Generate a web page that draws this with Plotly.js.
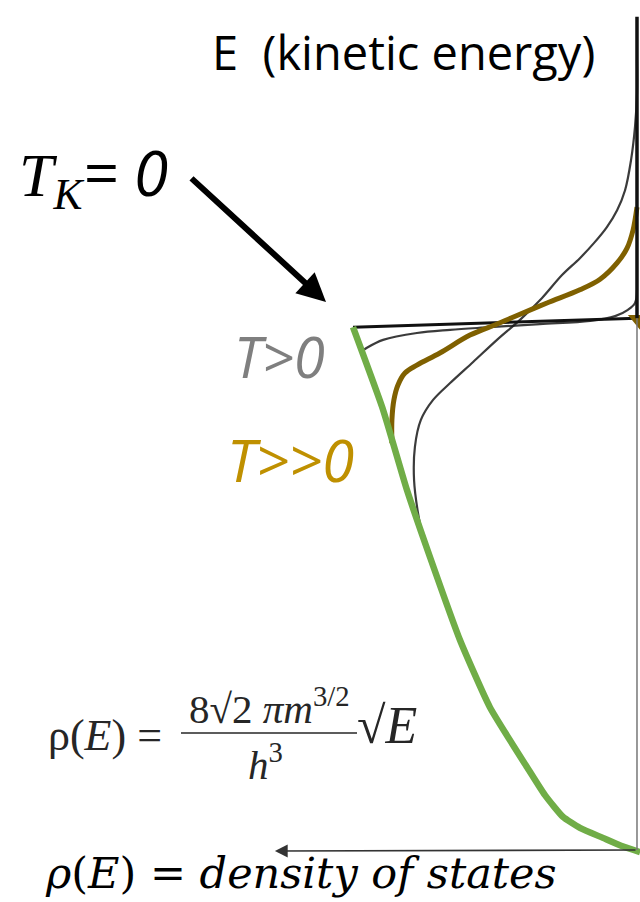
<!DOCTYPE html>
<html>
<head>
<meta charset="utf-8">
<script src="https://cdn.plot.ly/plotly-3.0.1.min.js"></script>
<style>
  html, body { margin: 0; padding: 0; background: #fff; }
  #chart { width: 640px; height: 902px; }
</style>
</head>
<body>
<div id="chart"></div>
<script>
// Electron energy distribution in a metal: density of states rho(E) drawn
// leftwards from a vertical energy axis, with Fermi-Dirac occupied curves.
// Units: E in units of the Fermi energy, rho in units of rho(E_F).

// Density of states rho(E) ~ sqrt(E)
const dosRho = [-0.011, 0.056, 0.120, 0.201, 0.261, 0.324, 0.387, 0.518, 0.623, 0.729, 0.810, 0.894, 1.000];
const dosE   = [-0.004, 0.008, 0.023, 0.042, 0.063, 0.104, 0.157, 0.271, 0.398, 0.556, 0.683, 0.835, 0.992];

// T = 0 : sharp cut-off at the Fermi level
const stepRho = [1.000, 0.000];
const stepE   = [0.992, 1.009];

// T > 0 : slightly smeared edge
const warmRho = [0.972, 0.951, 0.894, 0.775, 0.658, 0.518, 0.342, 0.165, 0.077, 0.032, 0.007, 0.000];
const warmE   = [0.945, 0.953, 0.968, 0.981, 0.987, 0.992, 0.998, 1.004, 1.013, 1.025, 1.038, 1.063];

// T > 0 : wider smearing, long high-energy tail
const hotRho = [0.754, 0.771, 0.785, 0.782, 0.761, 0.718, 0.658, 0.577, 0.493, 0.412, 0.335, 0.264, 0.201, 0.151, 0.106, 0.070, 0.042, 0.021, 0.007, 0.000, 0.000];
const hotE   = [0.594, 0.639, 0.702, 0.765, 0.816, 0.854, 0.886, 0.926, 0.968, 1.006, 1.047, 1.091, 1.123, 1.152, 1.182, 1.214, 1.252, 1.309, 1.372, 1.436, 1.499];

// T >> 0 : highlighted curve
const veryHotRho = [0.863, 0.863, 0.856, 0.842, 0.817, 0.775, 0.694, 0.588, 0.493, 0.437, 0.317, 0.201, 0.130, 0.070, 0.035, 0.014, 0.000];
const veryHotE   = [0.772, 0.816, 0.854, 0.882, 0.905, 0.920, 0.943, 0.977, 0.998, 1.011, 1.038, 1.063, 1.083, 1.114, 1.142, 1.176, 1.220];

// small wedge of the T>>0 curve showing past the energy axis
const wedgeRho = [0.032, -0.011, -0.011, 0.032];
const wedgeE   = [1.015, 1.015, 0.987, 1.015];

// axis extents
const eAxisTop = 1.581;
const eFermi = 1.009;
const rhoAxisEnd = 1.275;

const GREEN = '#70ad47';
const BROWN = '#7f6000';
const INK = 'rgba(25,25,25,0.85)';

const traces = [
  { x: hotRho, y: hotE, mode: 'lines', line: { color: INK, width: 2.2, shape: 'spline', smoothing: 1 }, hoverinfo: 'skip' },
  { x: warmRho, y: warmE, mode: 'lines', line: { color: INK, width: 2.2, shape: 'spline', smoothing: 1 }, hoverinfo: 'skip' },
  { x: stepRho, y: stepE, mode: 'lines', line: { color: '#111', width: 3 }, hoverinfo: 'skip' },
  { x: wedgeRho, y: wedgeE, mode: 'lines', fill: 'toself', fillcolor: BROWN, line: { color: BROWN, width: 0 }, hoverinfo: 'skip' },
  { x: veryHotRho, y: veryHotE, mode: 'lines', line: { color: BROWN, width: 5, shape: 'spline', smoothing: 1 }, hoverinfo: 'skip' },
  { x: dosRho, y: dosE, mode: 'lines', line: { color: GREEN, width: 6.5, shape: 'spline', smoothing: 0.5 }, hoverinfo: 'skip' }
];

// pixel helpers for paper positions
const W = 640, H = 902;
const px = v => v / W;
const py = v => 1 - v / H;

const SANS = 'Open Sans';
const SERIF = 'Liberation Serif';
const FORMULA_INK = '#262626';

const layout = {
  width: W, height: H,
  margin: { l: 0, r: 0, t: 0, b: 0 },
  paper_bgcolor: '#fff', plot_bgcolor: '#fff',
  showlegend: false,
  xaxis: { range: [2.243, -0.0106], visible: false, fixedrange: true },
  yaxis: { range: [-0.0987, 1.6129], visible: false, fixedrange: true },
  shapes: [
    // energy axis: heavy above the Fermi level, light below
    { type: 'line', xref: 'x', yref: 'y', x0: 0, x1: 0, y0: eFermi, y1: eAxisTop, line: { color: '#111', width: 3.5 } },
    { type: 'line', xref: 'x', yref: 'y', x0: 0, x1: 0, y0: 0, y1: eFermi, line: { color: '#777', width: 1.5 } },
    // fraction bar of the printed formula
    { type: 'line', xref: 'paper', yref: 'paper', x0: px(181), x1: px(357), y0: py(733), y1: py(733), line: { color: FORMULA_INK, width: 1.6 } }
  ],
  annotations: [
    // density-of-states axis with arrow pointing left
    { xref: 'x', yref: 'y', axref: 'x', ayref: 'y', x: rhoAxisEnd, y: -0.002, ax: 0, ay: 0,
      text: '', showarrow: true, arrowhead: 2, arrowsize: 1.6, arrowwidth: 1.6, arrowcolor: '#333', standoff: 0 },
    // pointer from the T_K = 0 label to the Fermi edge
    { xref: 'paper', yref: 'paper', x: px(326), y: py(302), ax: -136, ay: -125,
      text: '', showarrow: true, arrowhead: 2, arrowsize: 0.95, arrowwidth: 6, arrowcolor: '#000', standoff: 0 },
    { xref: 'paper', yref: 'paper', x: px(210), y: py(52), xanchor: 'left', yanchor: 'middle',
      text: 'E  (kinetic energy)', showarrow: false, font: { family: SANS, size: 47, color: '#000' } },
    { xref: 'paper', yref: 'paper', x: px(17), y: py(174), xanchor: 'left', yanchor: 'middle',
      text: '<span style="font-family:Liberation Serif"><i>T</i><sub><i>K</i></sub></span><i>= 0</i>',
      showarrow: false, font: { family: SANS, size: 62, color: '#000' } },
    { xref: 'paper', yref: 'paper', x: px(232), y: py(356), xanchor: 'left', yanchor: 'middle',
      text: '<i>T&gt;0</i>', showarrow: false, font: { family: SANS, size: 56, color: '#7f7f7f' } },
    { xref: 'paper', yref: 'paper', x: px(225), y: py(459), xanchor: 'left', yanchor: 'middle',
      text: '<i>T&gt;&gt;0</i>', showarrow: false, font: { family: SANS, size: 58, color: '#bf9000' } },
    // printed formula for the density of states
    { xref: 'paper', yref: 'paper', x: px(46), y: py(735), xanchor: 'left', yanchor: 'middle',
      text: 'ρ(<i>E</i>) =', showarrow: false, font: { family: SERIF, size: 44, color: FORMULA_INK } },
    { xref: 'paper', yref: 'paper', x: px(269), y: py(706), xanchor: 'center', yanchor: 'middle',
      text: '8√2 <i>πm</i><sup>3/2</sup>', showarrow: false, font: { family: SERIF, size: 41, color: FORMULA_INK } },
    { xref: 'paper', yref: 'paper', x: px(265), y: py(762), xanchor: 'center', yanchor: 'middle',
      text: '<i>h</i><sup>3</sup>', showarrow: false, font: { family: SERIF, size: 41, color: FORMULA_INK } },
    { xref: 'paper', yref: 'paper', x: px(355), y: py(725), xanchor: 'left', yanchor: 'middle',
      text: '√<i>E</i>', showarrow: false, font: { family: SERIF, size: 52, color: FORMULA_INK } },
    { xref: 'paper', yref: 'paper', x: px(43), y: py(873), xanchor: 'left', yanchor: 'middle',
      text: '<i>ρ</i>(<i>E</i>) = <i>density of states</i>', showarrow: false,
      font: { family: 'DejaVu Serif', size: 43, color: '#000' } }
  ]
};

Plotly.newPlot('chart', traces, layout, { staticPlot: true, displayModeBar: false });
</script>
</body>
</html>
